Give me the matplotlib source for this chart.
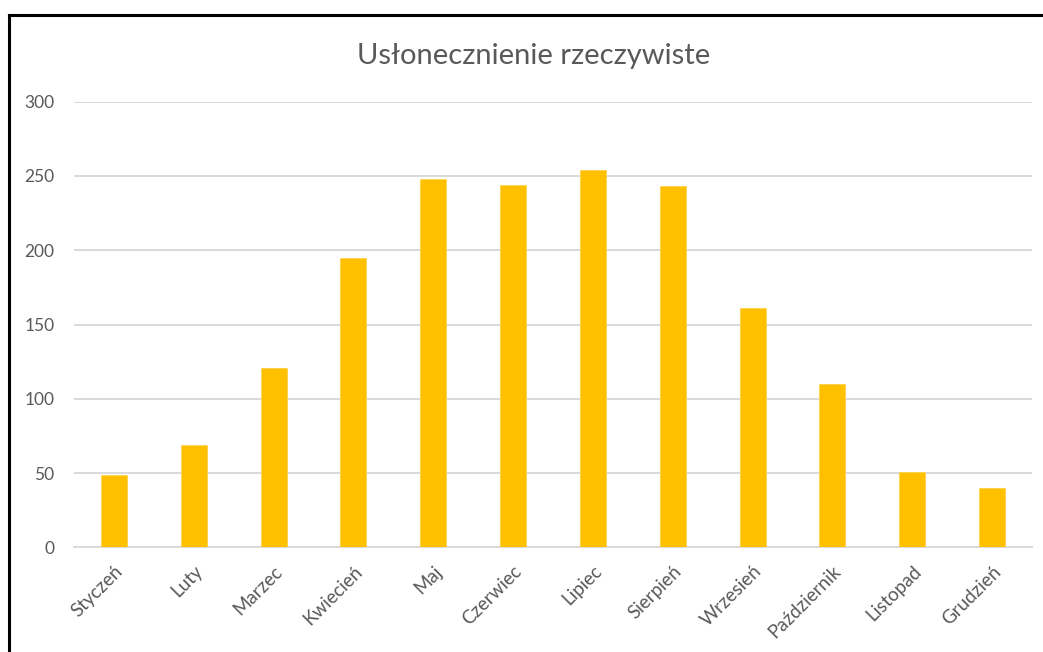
import matplotlib
matplotlib.use("Agg")
import matplotlib.pyplot as plt
from matplotlib.lines import Line2D

months = ["Styczeń", "Luty", "Marzec", "Kwiecień", "Maj", "Czerwiec",
          "Lipiec", "Sierpień", "Wrzesień", "Październik", "Listopad", "Grudzień"]
sunshine = [49, 69, 121, 195, 248, 244, 254, 243, 161, 110, 51, 40]
yticks = [0, 50, 100, 150, 200, 250, 300]
title = "Usłonecznienie rzeczywiste"

plt.rcParams['font.family'] = ['Lato', 'DejaVu Sans']
TXT = "#595959"
GRID = "#D9D9D9"

fig = plt.figure(figsize=(10.43, 6.52), dpi=100)
ax = fig.add_axes([74/1043, 1-547.3/652, (1032-74)/1043, (547.3-101.7)/652])

x = list(range(len(months)))
ax.bar(x, sunshine, width=0.325, color="#FFC000", edgecolor="#FFD24D", linewidth=0.6, zorder=3)

ax.set_xlim(-0.5, len(months) - 0.5)
ax.set_ylim(0, 300)
ax.set_yticks(yticks)
ax.set_yticklabels([str(v) for v in yticks], color=TXT, fontsize=12.5)
ax.set_xticks(x)
ax.set_xticklabels(months, rotation=45, ha="right", va="top", color=TXT, fontsize=13.5,
                   rotation_mode="anchor")
ax.tick_params(axis="both", length=0)
ax.tick_params(axis="y", pad=14)
ax.tick_params(axis="x", pad=11)
ax.grid(axis="y", color=GRID, linewidth=1.4, zorder=0)
for s in ["top", "right", "left"]:
    ax.spines[s].set_visible(False)
ax.spines["bottom"].set_color(GRID)
ax.spines["bottom"].set_linewidth(1.4)

fig.text(534/1043, 1-56/652, title, ha="center", va="center", color=TXT, fontsize=21)

# frame lines (left and top)
fig.add_artist(Line2D([9/1043, 9/1043], [0, 1-15/652], color="black", linewidth=2.2,
                      transform=fig.transFigure))
fig.add_artist(Line2D([9/1043, 1], [1-15/652, 1-15/652], color="black", linewidth=2.2,
                      transform=fig.transFigure))

fig.savefig("out.png", dpi=100, facecolor="white")
